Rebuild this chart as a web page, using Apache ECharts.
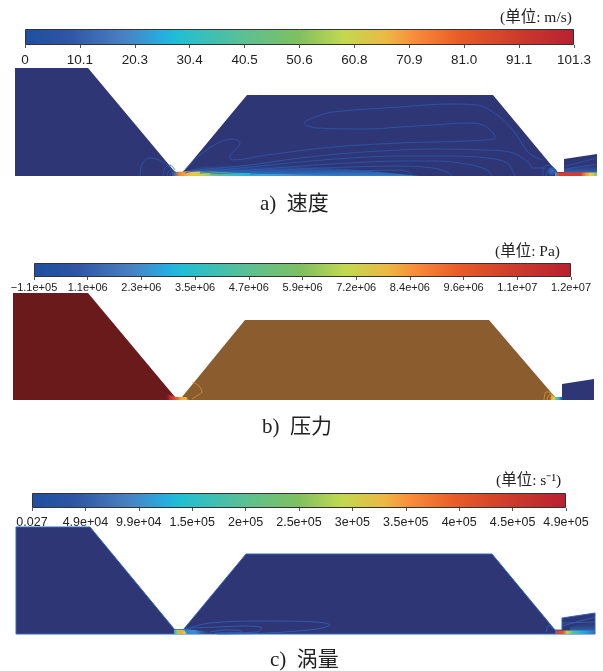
<!DOCTYPE html>
<html><head><meta charset="utf-8">
<style>html,body{margin:0;padding:0;background:#fff}#c{width:603px;height:671px}#c canvas{filter:blur(.35px)}</style>
<script src="https://cdn.jsdelivr.net/npm/echarts@6/dist/echarts.min.js"></script>
</head><body><div id="c"></div>
<script>
// colour-bar tick labels
const velocityTicks = ['0','10.1','20.3','30.4','40.5','50.6','60.8','70.9','81.0','91.1','101.3'];
const pressureTicks = ['\u22121.1e+05','1.1e+06','2.3e+06','3.5e+06','4.7e+06','5.9e+06','7.2e+06','8.4e+06','9.6e+06','1.1e+07','1.2e+07'];
const vorticityTicks = ['0.027','4.9e+04','9.9e+04','1.5e+05','2e+05','2.5e+05','3e+05','3.5e+05','4e+05','4.5e+05','4.9e+05'];

// flow-domain outlines: [x, height above the floor]
const velocityDomain = [[15,0],[15,108],[88,108],[175,4],[183,4],[247,81],[493,81],[557,4],[564,4],[564,17],[597,22],[597,0]];
const pressureUpstream = [[13,0],[13,107],[88,107],[175,3],[178,3],[178,0]];
const pressureChamber = [[178,0],[178,3],[182,3],[245,80],[489,80],[555,3],[555,0]];
const pressureOutlet = [[555,0],[555,3],[562,3],[562,16],[594,21],[594,0]];
const vorticityDomain = [[16,0],[16,107],[90,107],[175,4],[183,4],[246,80],[492,80],[555,4],[562,4],[562,16],[595,21],[595,0]];

// velocity field features
const velWedge = [[183,4],[205,10],[250,13],[300,10],[360,6],[420,0],[175,0]];
const velJet = [[172,4],[184,4.5],[210,4.5],[245,3],[300,1.5],[330,0.5],[330,0],[172,0]];
const velExitGlow = [[544,0],[547,7],[552,10],[557,6],[560,4],[560,0]];
const velExitJet = [[555,3.5],[597,3.5],[597,0],[555,0]];
const velOutletWash = [[564,8],[597,13],[597,3],[564,3]];
const velContours = [
  [[543,16],[537,18],[528,24],[513,46],[497,61],[477,71],[450,72],[400,69],[333,64],[315,59],[304,53],[317,48],[367,47],[400,49],[433,51],[467,53],[483,51],[494,42],[495,38],[467,35],[433,34],[400,33],[333,29],[267,21],[233,16],[230,19],[240,33],[233,37],[220,34],[200,21],[183,4]],
  [[185,3],[200,6],[250,11],[300,18],[350,23],[400,26],[433,27],[483,26],[510,24],[528,14],[533,8],[547,8]],
  [[200,4],[250,9],[300,14],[350,18],[400,20],[450,20],[487,18],[507,13],[515,0]],
  [[200,3],[250,6],[300,10],[350,13],[400,15],[433,15],[467,12],[487,6],[492,0]],
  [[210,2],[250,4],[300,7],[350,9],[400,10],[433,8],[447,4],[452,0]],
  [[250,2],[300,4],[350,5],[400,6],[410,3],[413,0]],
  [[140,0],[142,12],[150,18],[163,14],[172,6]],
  [[163,0],[165,8],[170,11],[175,6]],
  [[167,0],[170,6],[176,4]],
  [[170,0],[172,4],[176,3]],
  [[543,0],[543,8],[550,11],[554,8]],
  [[546,0],[549,6],[555,5]],
  [[566,10],[597,18]],
  [[566,7],[597,12]]
];

// pressure field features
const preThroat = [[167,6],[176,3],[186,3],[190,0],[165,0]];
const preExit = [[549,0],[551,5],[555,3],[563,3],[563,0]];
const preContours = [
  [[192,18],[198,15],[202,8],[198,5],[192,1]],
  [[183,3],[185,0]],
  [[544,0],[546,8],[549,8],[553,4]],
  [[547,0],[549,5],[552,6]]
];

// vorticity field features
const vorThroat = [[174,4],[184,4],[187,0],[174,0]];
const vorWedge = [[170,5],[184,5],[195,4],[215,1.5],[215,0],[170,0]];
const vorExit = [[555,3.5],[595,3.5],[595,0],[555,0]];
const vorOutletWash = [[570,7],[595,14],[595,1],[570,2]];
const vorContours = [
  [[183,4],[210,11],[267,13],[317,12],[330,9],[317,5],[267,1],[217,0]],
  [[190,6],[217,7],[243,8],[262,6],[257,2],[220,1]],
  [[210,2],[227,4],[242,3],[240,1],[215,1]],
  [[553,5],[549,9],[546,2]],
  [[562,11],[595,12]],
  [[562,8],[595,17]]
];

const NAVY = '#2e3675';
const LG = (a,b,c,d,s) => new echarts.graphic.LinearGradient(a,b,c,d,s.map(([offset,color]) => ({offset,color})));
const RG = s => new echarts.graphic.RadialGradient(0.5,0.5,0.6,s.map(([offset,color]) => ({offset,color})));
const RAMP = [[0,'#1f4f9f'],[.08,'#2f55a5'],[.18,'#4a80c2'],[.25,'#25aee0'],[.28,'#22bfd2'],[.4,'#5cc092'],[.5,'#80c060'],[.58,'#c2d950'],[.66,'#ecb844'],[.71,'#f98c3a'],[.79,'#e85c28'],[.9,'#cc3a2c'],[1,'#b82030']];

let zCount = 2;
function poly(panel, pts, fill, stroke, lw) {
  return {type:'custom', coordinateSystem:'cartesian2d', xAxisIndex:panel+3, yAxisIndex:panel+3, silent:true, clip:false, animation:false, z:zCount++,
    data:pts,
    renderItem:(p,api)=> p.dataIndex ? null : {type:'polygon', shape:{points:pts.map(q=>api.coord(q))}, style:{fill, stroke:stroke||null, lineWidth:lw||0}}};
}
function contours(panel, list, color) {
  return list.map(d => ({type:'line', xAxisIndex:panel+3, yAxisIndex:panel+3, data:d, smooth:0.35, showSymbol:false, silent:true, animation:false, clip:false, z:zCount+40,
    lineStyle:{color, width:0.9, opacity:.85}}));
}
const bars = [
 {left:25,right:603-574,top:29,h:16,labels:velocityTicks,fs:13.5,m:8},
 {left:34,right:603-571,top:263,h:14,labels:pressureTicks,fs:11,m:5},
 {left:32,right:603-566,top:493,h:15,labels:vorticityTicks,fs:12.5,m:8}
];
const floors = [176,400,634];
const grid=[],xAxis=[],yAxis=[],series=[];
bars.forEach((b,i)=>{
  grid.push({left:b.left,right:b.right,top:b.top,height:b.h});
  xAxis.push({type:'value',gridIndex:i,min:0,max:10,interval:1,splitLine:{show:false},axisLine:{show:false},
    axisTick:{show:true,length:3,lineStyle:{color:'#555',width:1}},
    axisLabel:{margin:b.m,color:'#222',fontFamily:'"Liberation Sans"',fontSize:b.fs,formatter:v=>b.labels[v],showMinLabel:true,showMaxLabel:true,hideOverlap:false}});
  yAxis.push({type:'category',gridIndex:i,data:['bar'],show:false});
  series.push({type:'bar',xAxisIndex:i,yAxisIndex:i,data:[10],barWidth:'100%',silent:true,animation:false,
    itemStyle:{color:LG(0,0,1,0,RAMP),borderColor:'#333',borderWidth:1}});
});
floors.forEach((f,i)=>{
  grid.push({left:0,width:603,top:f-120,height:120});
  xAxis.push({type:'value',gridIndex:i+3,min:0,max:603,show:false});
  yAxis.push({type:'value',gridIndex:i+3,min:0,max:120,show:false});
});

// a) velocity
series.push(poly(0,velocityDomain,NAVY));
series.push(poly(0,velWedge,LG(0,1,0,0,[[0,'rgba(52,130,205,.95)'],[.4,'rgba(45,95,175,.8)'],[1,'rgba(46,54,117,0)']])));
series.push(poly(0,velJet,LG(0,0,1,0,[[0,'#2b4f9f'],[.05,'#e8913a'],[.12,'#f3c24a'],[.2,'#b6d655'],[.3,'#5cc092'],[.45,'#2bb6d8'],[.75,'#3f90d0'],[1,'rgba(60,140,210,.3)']])));
series.push(poly(0,velExitGlow,RG([[0,'#3572bd'],[.55,'#2f55a5'],[1,'rgba(46,54,117,0)']])));
series.push(poly(0,velOutletWash,LG(0,1,0,0,[[0,'rgba(50,120,200,.8)'],[1,'rgba(46,54,117,0)']])));
series.push(poly(0,velExitJet,LG(0,0,1,0,[[0,'#3fa0c8'],[.1,'#e03a2a'],[.6,'#d8392c'],[.72,'#f58a3a'],[.85,'#e7d050'],[1,'#7fc46a']])));
series.push(...contours(0,velContours,'#2a5cb0'));

// b) pressure
series.push(poly(1,pressureChamber,'#8a5c2e'));
series.push(poly(1,pressureUpstream,'#6b1a1c'));
series.push(poly(1,pressureOutlet,NAVY));
series.push(poly(1,preThroat,LG(0,0,1,0,[[0,'rgba(107,26,28,0)'],[.2,'#c4282e'],[.45,'#e8562a'],[.65,'#f5a83a'],[.85,'#e7c048'],[1,'rgba(138,92,46,0)']])));
series.push(poly(1,preExit,LG(0,0,1,0,[[0,'rgba(138,92,46,0)'],[.15,'#ec9a3c'],[.32,'#e3d050'],[.5,'#78c070'],[.68,'#2bb6d8'],[.9,'#2f5cac'],[1,NAVY]])));
series.push(...contours(1,preContours,'#e59a3c'));

// c) vorticity
series.push(poly(2,vorticityDomain,NAVY,'#2f66c0',1));
series.push(poly(2,vorWedge,LG(0,0,1,0,[[0,'rgba(46,54,117,0)'],[.25,'#2f7cc8'],[.55,'#3c8fd0'],[1,'rgba(46,54,117,0)']])));
series.push(poly(2,vorThroat,LG(0,0,1,0,[[0,'#2fa0c8'],[.25,'#9fce5c'],[.55,'#f2a63e'],[.8,'#d8d050'],[1,'#70c080']])));
series.push(poly(2,vorOutletWash,LG(0,1,0,0,[[0,'rgba(50,125,205,.85)'],[1,'rgba(46,54,117,0)']])));
series.push(poly(2,vorExit,LG(0,0,1,0,[[0,'#2f70c0'],[.06,'#e0452c'],[.2,'#e0592c'],[.3,'#b8d455'],[.45,'#4fc0a0'],[.65,'#2ab0dc'],[1,'#3070c0']])));
series.push(...contours(2,vorContours,'#2f66bc'));

const serif = '"Liberation Serif","Noto Sans CJK SC"';
const T = (text,left,top,fontSize) => ({text,left,top,padding:0,textStyle:{fontFamily:serif,fontWeight:'normal',fontSize,color:'#222'}});
const chart = echarts.init(document.getElementById('c'),null,{renderer:'canvas'});
chart.setOption({backgroundColor:'#fff',animation:false,grid,xAxis,yAxis,series,
  title:[
    T('(单位: m/s)',500,10,15.5),T('(单位: Pa)',495,244,15.5),T('(单位: s\u207B\u00B9)',496,473,15.5),
    T('a)  速度',260,194,21),T('b)  压力',262,417,21),T('c)  涡量',270,650,21)
  ]});
</script></body></html>
